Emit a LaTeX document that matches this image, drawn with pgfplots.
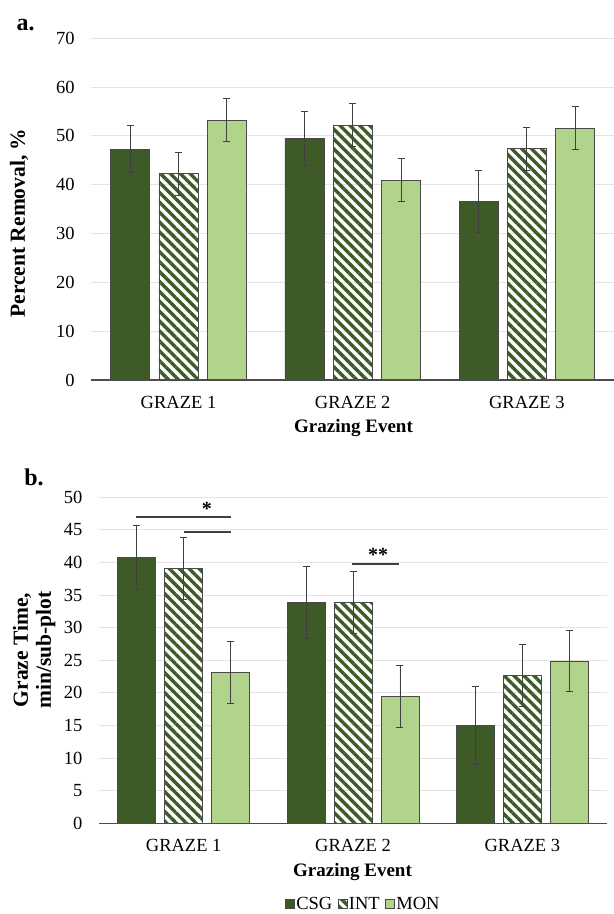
\documentclass[border=0pt]{standalone}
\usepackage{pgfplots}
\pgfplotsset{compat=1.18}
\usepackage{fontspec}
\setmainfont{Liberation Serif}
\usetikzlibrary{patterns.meta}
\definecolor{csg}{HTML}{3E5B27}
\definecolor{mon}{HTML}{B2D38B}
\definecolor{gridc}{HTML}{E3E3E3}
\definecolor{edge}{HTML}{4A4A4A}
\newcommand{\tickfont}{\fontsize{18.5bp}{22bp}\selectfont}
\newcommand{\labfont}{\fontsize{21.5bp}{23bp}\selectfont\bfseries}
\pgfplotsset{
  mybars/.style={
    scale only axis,
    ybar,
    xmin=-0.5, xmax=2.5,
    xtick={0,1,2},
    xticklabels={GRAZE 1, GRAZE 2, GRAZE 3},
    ymajorgrids,
    grid style={draw=gridc, line width=1bp},
    axis line style={draw=none},
    major tick length=0pt,
    tick style={draw=none},
    bar width=0.224,
    clip=false,
    /pgf/number format/assume math mode=true,
    tick label style={font=\tickfont},
    yticklabel style={anchor=east, inner sep=0pt, xshift=-16.5bp},
    xticklabel style={anchor=north, inner sep=0pt, yshift=-16bp},
    ylabel style={font=\labfont, anchor=center, align=center},
    xlabel style={font=\fontsize{19bp}{22bp}\selectfont\bfseries, anchor=center},
  },
  myerr/.style={
    error bars/y dir=both, error bars/y explicit,
    error bars/error mark=-,
    error bars/error bar style={line width=0.9bp, draw=black!75, solid},
    error bars/error mark options={rotate=90, line width=0.9bp, draw=black!75, mark size=3.5bp, solid},
  },
  pcsg/.style={bar shift=-0.2775, fill=csg, draw=edge, line width=0.7bp, myerr},
  pint/.style={bar shift=0, draw=edge, line width=0.7bp,
    pattern={Lines[angle=-45, distance=7bp, line width=3.4bp]}, pattern color=csg, myerr},
  pmon/.style={bar shift=0.2775, fill=mon, draw=edge, line width=0.7bp, myerr},
}
\begin{document}
\begin{tikzpicture}
\useasboundingbox (0,0) rectangle (614bp,-914bp);
% ---------------- panel a ----------------
\begin{axis}[mybars,
  at={(91.4bp,-380bp)}, anchor=south west,
  width=522.6bp, height=341.7bp,
  ymin=0, ymax=70, ytick={0,10,...,70},
  ylabel={Percent Removal, \%},
  ylabel style={at={(axis description cs:-0.1385,0.4595)}},
  xlabel={Grazing Event},
  xlabel style={at={(axis description cs:0.5015,-0.1405)}},
]
\addplot[pcsg] coordinates {
  (0,47.3) +- (0,4.8)
  (1,49.5) +- (0,5.6)
  (2,36.6) +- (0,6.3)
};
\addplot[pint] coordinates {
  (0,42.3) +- (0,4.4)
  (1,52.2) +- (0,4.4)
  (2,47.4) +- (0,4.4)
};
\addplot[pmon] coordinates {
  (0,53.2) +- (0,4.4)
  (1,40.9) +- (0,4.4)
  (2,51.6) +- (0,4.4)
};
\draw[line width=1.1bp, black!70] (axis cs:-0.5,0) -- (axis cs:2.5,0);
\end{axis}
% ---------------- panel b ----------------
\begin{axis}[mybars,
  at={(99bp,-823.3bp)}, anchor=south west,
  width=508bp, height=326bp,
  ymin=0, ymax=50, ytick={0,5,...,50},
  ylabel={Graze Time,\\min/sub-plot},
  ylabel style={at={(axis description cs:-0.1274,0.5316)}},
  xlabel={Grazing Event},
  xlabel style={at={(axis description cs:0.499,-0.150)}},
  legend style={at={(axis description cs:0.52,-0.2475)}, anchor=center,
    draw=none, fill=none, legend columns=3, font=\tickfont, inner sep=0pt,
    nodes={inner sep=1.5bp},
    /tikz/every even column/.append style={column sep=4bp},
    legend cell align=left},
  legend image code/.code={\draw[#1, line width=0.6bp] (0bp,-4.5bp) rectangle (9bp,4.5bp);},
]
\addplot[pcsg] coordinates {
  (0,40.8) +- (0,4.9)
  (1,33.9) +- (0,5.5)
  (2,15.0) +- (0,6.0)
};
\addlegendentry{CSG}
\addplot[pint] coordinates {
  (0,39.1) +- (0,4.75)
  (1,33.9) +- (0,4.75)
  (2,22.7) +- (0,4.75)
};
\addlegendentry{INT}
\addplot[pmon] coordinates {
  (0,23.1) +- (0,4.75)
  (1,19.5) +- (0,4.75)
  (2,24.9) +- (0,4.75)
};
\addlegendentry{MON}
\draw[line width=1.1bp, black!70] (axis cs:-0.5,0) -- (axis cs:2.5,0);
% significance brackets
\draw[line width=1.8bp, black!75] (axis cs:-0.28,47.0) -- (axis cs:0.28,47.0);
\draw[line width=1.8bp, black!75] (axis cs:0.003,44.7) -- (axis cs:0.28,44.7);
\node[font=\fontsize{20bp}{22bp}\selectfont\bfseries, inner sep=0pt] at (axis cs:0.137,48.2) {*};
\draw[line width=1.8bp, black!75] (axis cs:0.997,39.8) -- (axis cs:1.27,39.8);
\node[font=\fontsize{20bp}{22bp}\selectfont\bfseries, inner sep=0pt] at (axis cs:1.148,41.2) {**};
\end{axis}
\node[font=\fontsize{24bp}{26bp}\selectfont\bfseries] at (25.5bp,-25bp) {a.};
\node[font=\fontsize{24bp}{26bp}\selectfont\bfseries] at (34bp,-477bp) {b.};
\end{tikzpicture}
\end{document}
